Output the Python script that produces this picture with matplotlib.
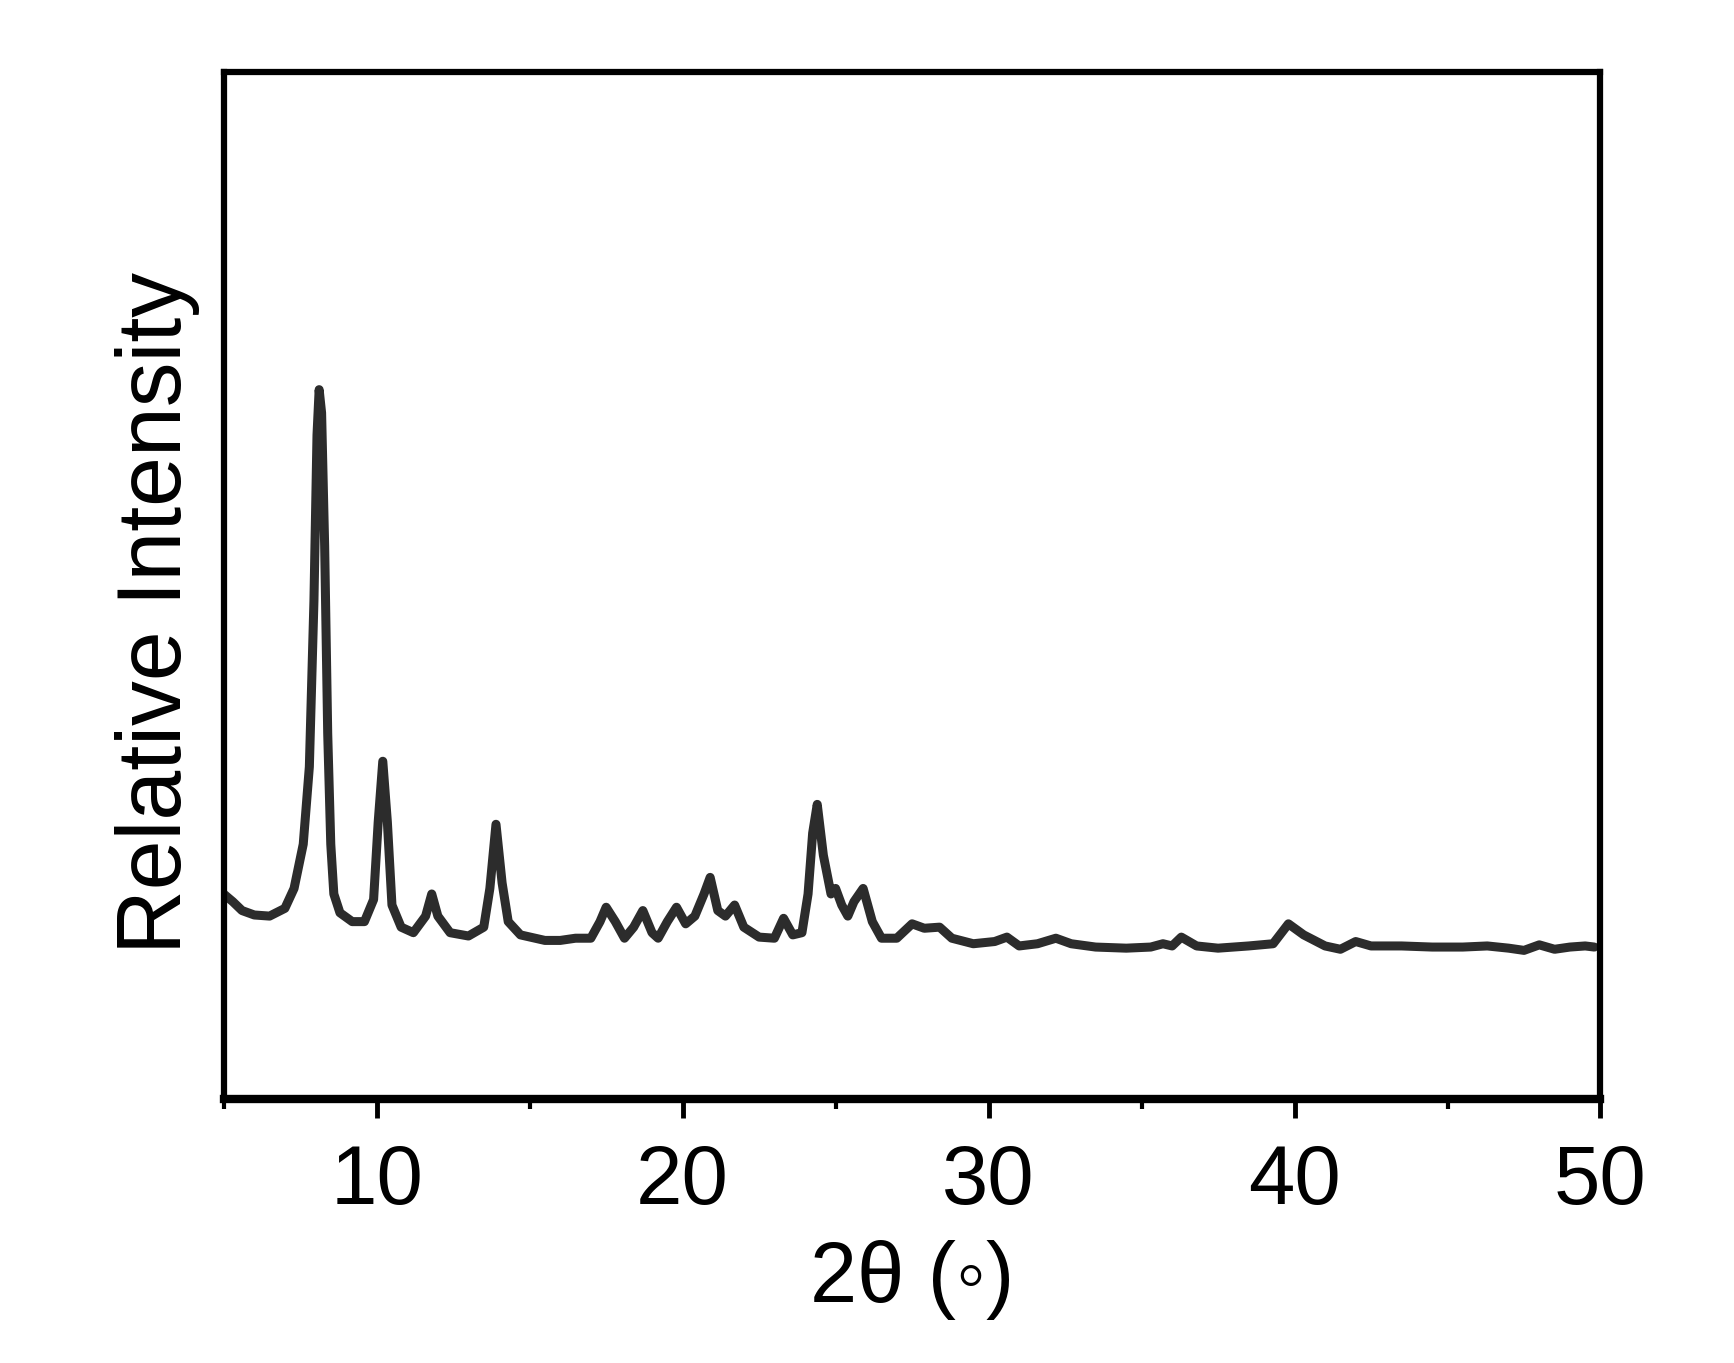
import numpy as np
import matplotlib.pyplot as plt
from matplotlib import ticker

plt.rcParams['font.family'] = ['Liberation Sans', 'DejaVu Sans']

# XRD pattern (arbitrary intensity units)
two_theta = [5.0, 5.3, 5.6, 6.0, 6.5, 7.0, 7.3, 7.6, 7.8, 7.95, 8.05, 8.12, 8.2, 8.3, 8.4,
             8.5, 8.6, 8.8, 9.2, 9.6, 9.9, 10.05, 10.2, 10.35, 10.5, 10.8, 11.2, 11.6, 11.8,
             12.0, 12.4, 13.0, 13.5, 13.7, 13.9, 14.1, 14.3, 14.7, 15.5, 16.0, 16.5, 17.0,
             17.3, 17.5, 17.8, 18.1, 18.4, 18.7, 19.0, 19.2, 19.5, 19.8, 20.1, 20.4, 20.7,
             20.9, 21.15, 21.4, 21.7, 22.0, 22.5, 23.0, 23.3, 23.6, 23.9, 24.1, 24.25, 24.4,
             24.6, 24.85, 25.0, 25.2, 25.4, 25.6, 25.9, 26.2, 26.5, 27.0, 27.5, 27.9, 28.4,
             28.8, 29.5, 30.2, 30.6, 31.0, 31.6, 32.2, 32.7, 33.5, 34.5, 35.3, 35.7, 36.0,
             36.3, 36.8, 37.5, 38.5, 39.3, 39.8, 40.3, 41.0, 41.5, 42.0, 42.5, 43.5, 44.5,
             45.5, 46.3, 47.0, 47.5, 48.0, 48.5, 49.0, 49.5, 49.8]
intensity = [185, 178, 170, 166, 165, 172, 190, 230, 300, 450, 600, 641, 620, 500, 330,
             230, 185, 168, 160, 160, 180, 250, 305, 250, 175, 155, 150, 165, 185,
             165, 150, 147, 155, 190, 248, 195, 160, 148, 143, 143, 145, 145,
             160, 173, 160, 145, 155, 170, 150, 145, 160, 173, 158, 165, 185,
             200, 170, 165, 175, 155, 146, 145, 163, 148, 150, 185, 240, 266,
             220, 185, 190, 175, 165, 178, 190, 160, 145, 145, 158, 154, 155,
             145, 140, 142, 146, 138, 140, 145, 140, 137, 136, 137, 140, 138,
             146, 138, 136, 138, 140, 158, 148, 138, 135, 142, 138, 138, 137,
             137, 138, 136, 134, 139, 135, 137, 138, 137]

fig = plt.figure(figsize=(17.34, 13.63), dpi=100)
ax = fig.add_axes([0.129, 0.194, 0.794, 0.753])

ax.plot(two_theta, intensity, color='#2c2c2c', lw=6.5,
        solid_joinstyle='round', solid_capstyle='round')

ax.set_xlim(5, 50)
ax.set_ylim(0, 928)
ax.xaxis.set_major_locator(ticker.MultipleLocator(10))
ax.xaxis.set_minor_locator(ticker.MultipleLocator(5))
ax.set_yticks([])
ax.tick_params(axis='x', which='major', direction='out', length=14, width=3.5,
               labelsize=60, pad=18)
ax.tick_params(axis='x', which='minor', direction='out', length=7, width=3)
for s in ax.spines.values():
    s.set_linewidth(4.5)
ax.spines['bottom'].set_linewidth(6)

ax.set_xlabel('2θ (◦)', fontsize=61, labelpad=14)
ax.set_ylabel('Relative Intensity', fontsize=64.5)
ax.yaxis.set_label_coords(-0.0174, 0.473)

plt.savefig('out.png', dpi=100)
